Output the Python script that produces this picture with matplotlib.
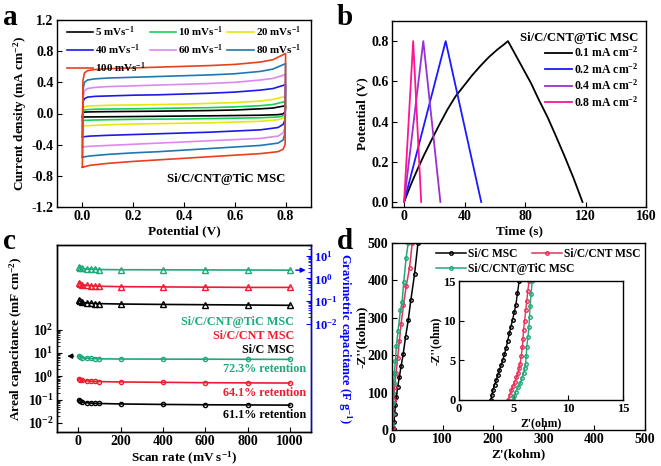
import numpy as np
import matplotlib
matplotlib.use('Agg')
import matplotlib.pyplot as plt
from matplotlib.ticker import FixedLocator, NullFormatter

plt.rcParams['font.family'] = ['Liberation Serif', 'DejaVu Serif']
plt.rcParams['font.weight'] = 'bold'
plt.rcParams['axes.labelweight'] = 'bold'
plt.rcParams['mathtext.fontset'] = 'custom'
plt.rcParams['mathtext.rm'] = 'Liberation Serif:bold'
plt.rcParams['mathtext.bf'] = 'Liberation Serif:bold'
plt.rcParams['mathtext.it'] = 'Liberation Serif:bold:italic'
plt.rcParams['mathtext.default'] = 'bf'
plt.rcParams['font.size'] = 9.5
plt.rcParams['axes.labelsize'] = 9.5
plt.rcParams['xtick.labelsize'] = 10
plt.rcParams['ytick.labelsize'] = 10
plt.rcParams['xtick.direction'] = 'in'
plt.rcParams['ytick.direction'] = 'in'
plt.rcParams['xtick.major.pad'] = 2.5
plt.rcParams['ytick.major.pad'] = 2.5
plt.rcParams['axes.linewidth'] = 1.0

# ---- panel a: CV curves ----
cv_rates = ['5', '10', '20', '40', '60', '80', '100']
cv_colors = ['black', '#14d255', '#e6e610', '#1a1ae6', '#dd88ee', '#1f78b4', '#e8401c']
v_up = [0, 0.002, 0.008, 0.02, 0.05, 0.1, 0.2, 0.3, 0.4, 0.5, 0.6, 0.7, 0.75, 0.8]
v_down = [0.8, 0.798, 0.79, 0.77, 0.7, 0.6, 0.5, 0.4, 0.3, 0.2, 0.1, 0.03, 0.0]
cv_up = {
    '5': [-0.045, 0.01, 0.018, 0.02, 0.022, 0.024, 0.027, 0.03, 0.034, 0.038, 0.045, 0.06, 0.07, 0.10],
    '10': [-0.09, 0.03, 0.045, 0.05, 0.055, 0.057, 0.06, 0.065, 0.07, 0.075, 0.085, 0.10, 0.115, 0.155],
    '20': [-0.16, 0.06, 0.085, 0.095, 0.10, 0.105, 0.11, 0.115, 0.12, 0.13, 0.14, 0.16, 0.18, 0.22],
    '40': [-0.30, 0.15, 0.19, 0.21, 0.22, 0.225, 0.235, 0.24, 0.25, 0.26, 0.275, 0.30, 0.32, 0.37],
    '60': [-0.43, 0.20, 0.29, 0.32, 0.335, 0.345, 0.355, 0.365, 0.375, 0.385, 0.40, 0.43, 0.45, 0.50],
    '80': [-0.56, 0.30, 0.40, 0.43, 0.445, 0.455, 0.465, 0.475, 0.485, 0.495, 0.51, 0.54, 0.57, 0.64],
    '100': [-0.69, 0.42, 0.52, 0.55, 0.565, 0.575, 0.585, 0.595, 0.605, 0.615, 0.63, 0.66, 0.69, 0.77],
}
cv_down = {
    '5': [0.10, 0.02, -0.005, -0.015, -0.022, -0.026, -0.03, -0.033, -0.036, -0.039, -0.042, -0.044, -0.045],
    '10': [0.155, 0.0, -0.03, -0.045, -0.055, -0.06, -0.065, -0.07, -0.072, -0.075, -0.08, -0.085, -0.09],
    '20': [0.22, -0.02, -0.06, -0.08, -0.10, -0.11, -0.12, -0.125, -0.13, -0.135, -0.145, -0.155, -0.16],
    '40': [0.37, -0.08, -0.14, -0.18, -0.21, -0.225, -0.24, -0.25, -0.26, -0.27, -0.28, -0.29, -0.30],
    '60': [0.50, -0.18, -0.25, -0.29, -0.32, -0.335, -0.35, -0.365, -0.38, -0.395, -0.41, -0.42, -0.43],
    '80': [0.64, -0.25, -0.34, -0.38, -0.41, -0.43, -0.45, -0.47, -0.49, -0.505, -0.525, -0.545, -0.56],
    '100': [0.77, -0.40, -0.46, -0.49, -0.515, -0.535, -0.555, -0.575, -0.595, -0.615, -0.64, -0.665, -0.69],
}

# ---- panel b: GCD curves ----
gcd_labels = ['0.1 mA cm$^{-2}$', '0.2 mA cm$^{-2}$', '0.4 mA cm$^{-2}$', '0.8 mA cm$^{-2}$']
gcd_colors = ['black', '#1a1aff', '#9b30d0', '#ff1493']
gcd_t = [
    [0, 4.4, 8.7, 13, 17.6, 23, 28.7, 34, 39.8, 45, 50.9, 56, 62, 65.5, 68.7,
     72, 76, 80, 84, 89, 95, 100, 106, 112, 118],
    [0, 27.5, 51],
    [0, 12.7, 24],
    [0, 6, 11.3],
]
gcd_v = [
    [0, 0.085, 0.16, 0.23, 0.30, 0.38, 0.46, 0.525, 0.58, 0.63, 0.68, 0.72, 0.76, 0.78, 0.8,
     0.755, 0.70, 0.645, 0.59, 0.51, 0.42, 0.335, 0.23, 0.12, 0],
    [0, 0.8, 0],
    [0, 0.8, 0],
    [0, 0.8, 0],
]

# ---- panel c: rate capability ----
scan_rate = [5, 10, 20, 40, 60, 80, 100, 200, 400, 600, 800, 1000]
areal_tic = [7.3, 6.7, 6.3, 6.0, 5.8, 5.7, 5.6, 5.5, 5.45, 5.4, 5.35, 5.3]
areal_cnt = [0.80, 0.72, 0.67, 0.63, 0.61, 0.60, 0.59, 0.57, 0.55, 0.53, 0.52, 0.513]
areal_sic = [0.095, 0.085, 0.078, 0.073, 0.071, 0.069, 0.068, 0.065, 0.062, 0.060, 0.059, 0.058]
grav_tic = [3.2, 2.9, 2.75, 2.6, 2.55, 2.5, 2.45, 2.4, 2.38, 2.35, 2.33, 2.3]
grav_cnt = [0.62, 0.56, 0.52, 0.49, 0.47, 0.46, 0.45, 0.43, 0.42, 0.41, 0.40, 0.40]
grav_sic = [0.107, 0.096, 0.088, 0.083, 0.080, 0.078, 0.077, 0.074, 0.071, 0.069, 0.067, 0.065]
retention = ['72.3% retention', '64.1% retention', '61.1% retention']

# ---- panel d: Nyquist ----
z_sic_re = [3.3, 4, 5.3, 6.7, 8.7, 11.3, 14.7, 18, 22, 26.7, 32, 37.3, 44.7, 51.3]
z_sic_im = [3, 21, 44, 66, 89, 116, 143, 171, 202, 248, 293, 348, 418, 500]
z_cnt_re = [1.3, 2, 3.3, 5.3, 8, 11.3, 14.7, 18, 22.7, 28, 34.7, 40]
z_cnt_im = [7, 44, 80, 116, 152, 193, 239, 284, 334, 384, 434, 500]
z_tic_re = [0, 0.7, 1.3, 2, 3.3, 4.7, 6.7, 8.7, 12, 16.7, 20, 23.3, 28, 32]
z_tic_im = [16, 44, 71, 98, 125, 152, 184, 225, 266, 320, 343, 397, 461, 500]
zi_sic_re = [2.9, 3.0, 3.1, 3.25, 3.4, 3.55, 3.7, 3.85, 4.0, 4.15, 4.3, 4.45, 4.6, 4.75, 4.9, 5.05, 5.2, 5.35, 5.5]
zi_sic_im = [0, 0.6, 1.26, 1.9, 2.5, 3.15, 3.8, 4.4, 5.0, 5.75, 6.5, 7.45, 8.4, 9.25, 10.1, 11.05, 12.0, 13.5, 15]
zi_cnt_re = [4.5, 4.65, 4.8, 4.95, 5.1, 5.25, 5.4, 5.5, 5.6, 5.7, 5.8, 5.85, 5.9, 6.0, 6.1, 6.2, 6.3, 6.4]
zi_cnt_im = [0, 0.65, 1.3, 1.8, 2.3, 2.85, 3.4, 4.0, 4.6, 5.6, 6.7, 7.7, 8.8, 10.0, 11.3, 12.5, 13.8, 15]
zi_tic_re = [4.9, 5.05, 5.2, 5.4, 5.6, 5.75, 5.9, 6.0, 6.1, 6.15, 6.2, 6.3, 6.4, 6.45, 6.5, 6.6, 6.7]
zi_tic_im = [0, 0.5, 1.05, 1.6, 2.1, 2.75, 3.4, 4.0, 4.6, 5.6, 6.7, 7.9, 9.2, 10.5, 11.8, 13.4, 15]

green = '#1fa878'
red = '#ee1c30'
pink = '#e8305a'

fig = plt.figure(figsize=(6.61, 4.66), dpi=100)


def px_axes(x0, y0, x1, y1):
    return fig.add_axes([x0 / 661, 1 - y1 / 466, (x1 - x0) / 661, (y1 - y0) / 466])


# panel a
axa = px_axes(57, 20, 311, 207)
for r, c in zip(cv_rates, cv_colors):
    v = v_up + v_down + [0]
    i = cv_up[r] + cv_down[r] + [cv_up[r][0]]
    axa.plot(v, i, color=c, lw=1.2, label=r + ' mVs$^{-1}$')
axa.set_xlim(-0.1, 0.9)
axa.set_ylim(-1.2, 1.2)
axa.set_xticks([0, 0.2, 0.4, 0.6, 0.8])
axa.set_yticks([-1.2, -0.8, -0.4, 0.0, 0.4, 0.8, 1.2])
axa.xaxis.set_major_formatter(plt.FormatStrFormatter('%.1f'))
axa.yaxis.set_major_formatter(plt.FormatStrFormatter('%.1f'))
axa.set_xlabel('Potential (V)', labelpad=1)
axa.set_ylabel('Current density (mA cm$^{-2}$)', labelpad=2)
h, l = axa.get_legend_handles_labels()
order = [0, 3, 6, 1, 4, 2, 5]
axa.legend([h[k] for k in order], [l[k] for k in order], ncol=3, frameon=False,
           loc='upper left', bbox_to_anchor=(0.0, 1.03), handlelength=2.4,
           handletextpad=0.2, columnspacing=0.35, labelspacing=0.3, fontsize=7.9)
axa.text(0.8, -0.84, 'Si/C/CNT@TiC MSC', ha='right', va='center', fontsize=9.2)

# panel b
axb = px_axes(392, 21, 646, 207)
for t, v, lab, c in zip(gcd_t, gcd_v, gcd_labels, gcd_colors):
    axb.plot(t, v, color=c, lw=1.3, label=lab)
axb.set_xlim(-8, 160)
axb.set_ylim(-0.025, 0.9)
axb.set_xticks([0, 40, 80, 120, 160])
axb.set_yticks([0, 0.2, 0.4, 0.6, 0.8])
axb.yaxis.set_major_formatter(plt.FormatStrFormatter('%.1f'))
axb.set_xlabel('Time (s)', labelpad=1)
axb.set_ylabel('Potential (V)', labelpad=2)
axb.legend(title='Si/C/CNT@TiC MSC', frameon=False, loc='upper right',
           bbox_to_anchor=(1.01, 1.0), alignment='right', handlelength=2.3,
           handletextpad=0.15, labelspacing=0.15, fontsize=8.5,
           title_fontproperties={'weight': 'bold', 'size': 9.2})

# panel c
axc = px_axes(57, 245, 311, 432)
axc.set_yscale('log')
axc.plot(scan_rate, areal_tic, '-o', color=green, ms=3, mfc='none', lw=1.2)
axc.plot(scan_rate, areal_cnt, '-o', color=red, ms=3, mfc='none', lw=1.2)
axc.plot(scan_rate, areal_sic, '-o', color='black', ms=3, mfc='none', lw=1.2)
axc.set_xlim(-100, 1100)
axc.set_ylim(10 ** -2.39, 10 ** 5.63)
axc.yaxis.set_major_locator(FixedLocator([1e-2, 1e-1, 1e0, 1e1, 1e2]))
minors = [m * 10.0 ** e for e in range(-2, 2) for m in range(2, 10)]
axc.yaxis.set_minor_locator(FixedLocator(minors))
axc.yaxis.set_minor_formatter(NullFormatter())
axc.set_xticks([0, 200, 400, 600, 800, 1000])
axc.set_xlabel('Scan rate (mV s$^{-1}$)', labelpad=1)
axc.set_ylabel('Areal capacitance (mF cm$^{-2}$)', labelpad=2)
axc.text(1020, 10 ** 2.33, 'Si/C/CNT@TiC MSC', color=green, ha='right', va='center', fontsize=8.7)
axc.text(1020, 10 ** 1.73, 'Si/C/CNT MSC', color=red, ha='right', va='center', fontsize=8.7)
axc.text(1020, 10 ** 1.13, 'Si/C MSC', color='black', ha='right', va='center', fontsize=8.7)
for txt, yv, c in zip(retention, [10 ** 0.31, 10 ** -0.72, 10 ** -1.66], [green, red, 'black']):
    axc.text(1076, yv, txt, color=c, ha='right', va='center', fontsize=8.7)
axc.annotate('', xy=(-65, areal_tic[0]), xytext=(-8, areal_tic[0]),
             arrowprops=dict(arrowstyle='-|>', color='black', lw=1, mutation_scale=7))

axc2 = axc.twinx()
axc2.set_yscale('log')
axc2.plot(scan_rate, grav_tic, '-^', color=green, ms=4, mfc='none', lw=1.2)
axc2.plot(scan_rate, grav_cnt, '-^', color=red, ms=4, mfc='none', lw=1.2)
axc2.plot(scan_rate, grav_sic, '-^', color='black', ms=4, mfc='none', lw=1.2)
axc2.set_ylim(10 ** -6.77, 10 ** 1.47)
axc2.yaxis.set_major_locator(FixedLocator([1e-2, 1e-1, 1e0, 1e1]))
minors2 = [m * 10.0 ** e for e in range(-2, 1) for m in range(2, 10)] + [20.0]
axc2.yaxis.set_minor_locator(FixedLocator(minors2))
axc2.yaxis.set_minor_formatter(NullFormatter())
axc2.spines['right'].set_color('blue')
axc2.tick_params(axis='y', which='both', colors='blue', labelsize=9)
axc2.set_ylabel('Gravimetric capacitance (F g$^{-1}$)', color='blue', rotation=270,
                va='center', fontsize=9)
axc2.yaxis.set_label_coords((345 - 57) / 254, 0.5)
axc2.annotate('', xy=(1088, grav_tic[-1]), xytext=(1015, grav_tic[-1]),
              arrowprops=dict(arrowstyle='-|>', color='blue', lw=1, mutation_scale=7))

# panel d
axd = px_axes(392, 243, 645, 430)
l_sic, = axd.plot(z_sic_re, z_sic_im, '-o', color='black', ms=2.5, mfc='none', lw=1.1, label='Si/C MSC')
l_cnt, = axd.plot(z_cnt_re, z_cnt_im, '-o', color=pink, ms=2.5, mfc='none', lw=1.1, label='Si/C/CNT MSC')
l_tic, = axd.plot(z_tic_re, z_tic_im, '-o', color=green, ms=2.5, mfc='none', lw=1.1, label='Si/C/CNT@TiC MSC')
axd.set_xlim(0, 500)
axd.set_ylim(0, 500)
axd.set_xticks([0, 100, 200, 300, 400, 500])
axd.set_yticks([0, 100, 200, 300, 400, 500])
axd.set_xlabel("Z'(kohm)", labelpad=1)
axd.set_ylabel("-Z''(kohm)", va='center')
axd.yaxis.set_label_coords((362 - 392) / 253, 0.5)
leg1 = axd.legend([l_sic, l_cnt], ['Si/C MSC', 'Si/C/CNT MSC'], ncol=2, frameon=False,
                  loc='upper left', bbox_to_anchor=(0.155, 1.0), borderaxespad=0,
                  handlelength=2.6, handletextpad=0.15, columnspacing=1.3, fontsize=8.3)
axd.add_artist(leg1)
axd.legend([l_tic], ['Si/C/CNT@TiC MSC'], frameon=False,
           loc='upper left', bbox_to_anchor=(0.155, 0.92), borderaxespad=0,
           handlelength=2.6, handletextpad=0.15, fontsize=8.3)

axi = px_axes(459, 281, 623, 400)
axi.plot(zi_sic_re, zi_sic_im, '-o', color='black', ms=2.5, mfc='none', lw=1.0)
axi.plot(zi_cnt_re, zi_cnt_im, '-o', color=pink, ms=2.5, mfc='none', lw=1.0)
axi.plot(zi_tic_re, zi_tic_im, '-o', color=green, ms=2.5, mfc='none', lw=1.0)
axi.set_xlim(0, 15)
axi.set_ylim(0, 15)
axi.set_xticks([0, 5, 10, 15])
axi.set_yticks([0, 5, 10, 15])
axi.tick_params(labelsize=9)
axi.set_xlabel("Z'(ohm)", labelpad=1, fontsize=8.5)
axi.set_ylabel("-Z''(ohm)", labelpad=1, fontsize=8.5)

# panel letters
for lab, x, y in [('a', 3, 25), ('b', 337, 25), ('c', 3, 249), ('d', 337, 249)]:
    fig.text(x / 661, 1 - y / 466, lab, fontsize=21, fontweight='bold')

fig.savefig('out.png', dpi=100)
